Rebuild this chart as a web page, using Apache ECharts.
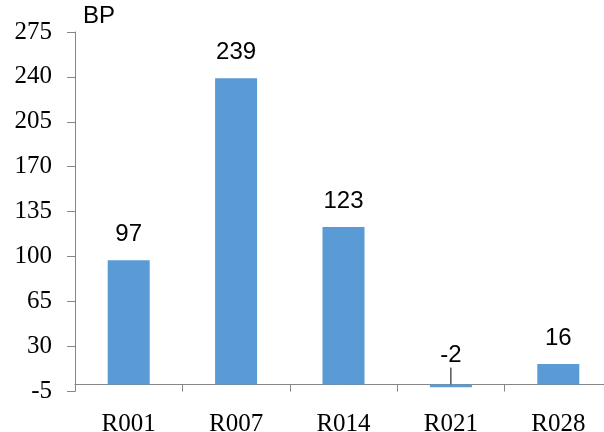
<!DOCTYPE html>
<html>
<head>
<meta charset="utf-8">
<script src="https://cdn.jsdelivr.net/npm/echarts@6/dist/echarts.min.js"></script>
<style>
    html, body { margin: 0; padding: 0; background: #fff; }
    #chart { width: 604px; height: 432px; }
</style>
</head>
<body>
<div id="chart"></div>
<script>
var categories = ["R001", "R007", "R014", "R021", "R028"];
var bpValues = [97, 239, 123, -2, 16];
var yMin = -5, yMax = 275, yStep = 35;

var chart = echarts.init(document.getElementById("chart"));
var axisColor = "#868686";

// only the "-2" label has a leader line in the source
var barData = bpValues.map(function (v, i) {
    if (i === 3) {
        return {value: v, labelLine: {show: true, length2: 0, lineStyle: {color: "#000", width: 1}}};
    }
    return {value: v, labelLine: {show: false}};
});

var option = {
    animation: false,
    grid: {left: 75, top: 32, bottom: 41, width: 537, outerBoundsMode: "none", containLabel: false},
    xAxis: {
        type: "category",
        data: categories,
        axisLine: {onZero: true, lineStyle: {color: axisColor, width: 1}},
        axisTick: {show: true, length: 7, lineStyle: {color: axisColor}},
        axisLabel: {
            margin: 21,
            color: "#000",
            fontFamily: "Liberation Serif",
            fontSize: 25
        }
    },
    yAxis: {
        type: "value",
        min: yMin, max: yMax, interval: yStep,
        name: "BP",
        nameLocation: "end",
        nameGap: 4,
        nameTextStyle: {
            color: "#000",
            fontFamily: "Liberation Sans",
            fontSize: 24,
            align: "left",
            verticalAlign: "bottom",
            padding: [0, 0, 0, 8]
        },
        splitLine: {show: false},
        axisLine: {show: true, lineStyle: {color: axisColor, width: 1}},
        axisTick: {show: true, length: 8, lineStyle: {color: axisColor}},
        axisLabel: {
            margin: 23,
            color: "#000",
            fontFamily: "Liberation Serif",
            fontSize: 25
        }
    },
    series: [{
        type: "bar",
        data: barData,
        barWidth: 42,
        itemStyle: {color: "#5b9bd5"},
        label: {
            show: true,
            position: "top",
            distance: 14,
            color: "#000",
            fontFamily: "Liberation Sans",
            fontSize: 24
        },
        labelLayout: function (params) {
            if (params.dataIndex === 3) {
                return {dy: -3};
            }
            return {};
        }
    }]
};

chart.setOption(option);
</script>
</body>
</html>
